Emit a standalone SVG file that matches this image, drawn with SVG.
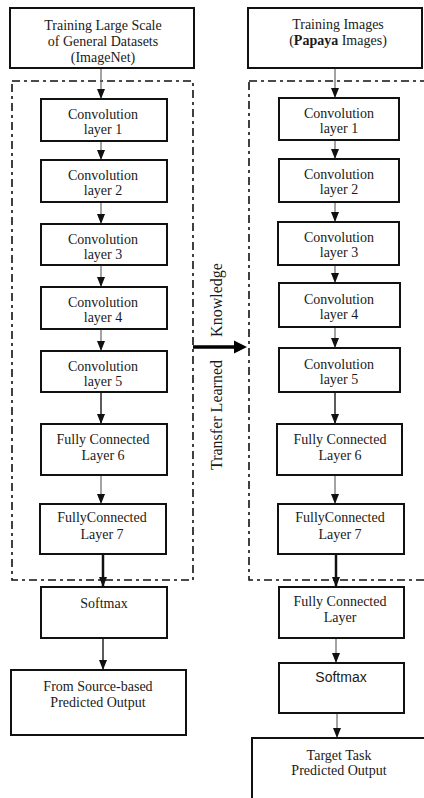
<svg xmlns="http://www.w3.org/2000/svg" width="424" height="798" viewBox="0 0 424 798">
<style>
.box{fill:#fff;stroke:#111;stroke-width:2}
.t{font-family:"Liberation Serif","Times New Roman",serif;font-size:14px;fill:#1a1a1a;text-anchor:middle}
.s{font-family:"Liberation Sans",Arial,sans-serif;font-size:14px;fill:#1a1a1a;text-anchor:middle}
.dash{fill:none;stroke:#111;stroke-width:1.6;stroke-dasharray:8 4 3 4}
.thin{stroke:#666;stroke-width:1.2;fill:none}
.thick{stroke:#111;stroke-width:2.5;fill:none}
.mid{stroke:#333;stroke-width:1.6;fill:none}
.lbl{font-family:"Liberation Serif","Times New Roman",serif;font-size:16px;fill:#1a1a1a;text-anchor:middle}
</style>
<defs>
<marker id="ah" viewBox="0 0 10 8" refX="10" refY="4" markerWidth="10" markerHeight="8" markerUnits="userSpaceOnUse" orient="auto">
<path d="M0,0 L10,4 L0,8 Z" fill="#111"/>
</marker>
</defs>
<rect width="424" height="798" fill="#fff"/>

<g id="frames">
<rect class="dash" x="12" y="81" width="181" height="499"/>
<rect class="dash" x="249" y="81" width="180" height="499"/>
</g>

<g id="connectors">
<line class="thin" x1="101" y1="68" x2="101" y2="99" marker-end="url(#ah)"/>
<line class="thin" x1="101" y1="141" x2="101" y2="160" marker-end="url(#ah)"/>
<line class="thin" x1="101" y1="202" x2="101" y2="224" marker-end="url(#ah)"/>
<line class="thin" x1="101" y1="265" x2="101" y2="287" marker-end="url(#ah)"/>
<line class="thin" x1="101" y1="329" x2="101" y2="351" marker-end="url(#ah)"/>
<line class="mid" x1="101" y1="392" x2="101" y2="424" marker-end="url(#ah)"/>
<line class="thin" x1="101" y1="475" x2="101" y2="504" marker-end="url(#ah)"/>
<line class="thick" x1="103" y1="554" x2="103" y2="587" marker-end="url(#ah)"/>
<line class="mid" x1="103" y1="638" x2="103" y2="670" marker-end="url(#ah)"/>

<line class="thin" x1="335" y1="68" x2="335" y2="98" marker-end="url(#ah)"/>
<line class="thin" x1="335" y1="140" x2="335" y2="159" marker-end="url(#ah)"/>
<line class="thin" x1="335" y1="202" x2="335" y2="222" marker-end="url(#ah)"/>
<line class="thin" x1="335" y1="265" x2="335" y2="283" marker-end="url(#ah)"/>
<line class="thin" x1="335" y1="327" x2="335" y2="348" marker-end="url(#ah)"/>
<line class="mid" x1="335" y1="392" x2="335" y2="424" marker-end="url(#ah)"/>
<line class="thin" x1="335" y1="475" x2="335" y2="504" marker-end="url(#ah)"/>
<line class="thick" x1="336" y1="554" x2="336" y2="587" marker-end="url(#ah)"/>
<line class="thin" x1="336" y1="638" x2="336" y2="663" marker-end="url(#ah)"/>
<line class="thin" x1="337" y1="713" x2="337" y2="738" marker-end="url(#ah)"/>
</g>

<g id="transfer">
<line x1="193" y1="347" x2="236" y2="347" stroke="#000" stroke-width="3.5"/>
<path d="M234,340.5 L247,347 L234,353.5 Z" fill="#000"/>
<text class="lbl" transform="translate(222,300) rotate(-90)">Knowledge</text>
<text class="lbl" transform="translate(222,415) rotate(-90)">Transfer Learned</text>
</g>

<g id="src-input">
<rect class="box" x="10" y="8" width="184" height="60"/>
<text class="t" x="103" y="30">Training Large Scale</text>
<text class="t" x="103" y="46">of General Datasets</text>
<text class="t" x="103" y="62">(ImageNet)</text>
</g>
<g id="src-conv1"><rect class="box" x="41" y="99" width="126" height="42"/><text class="t" x="103" y="119">Convolution</text><text class="t" x="103" y="134">layer 1</text></g>
<g id="src-conv2"><rect class="box" x="41" y="160" width="126" height="42"/><text class="t" x="103" y="180">Convolution</text><text class="t" x="103" y="195">layer 2</text></g>
<g id="src-conv3"><rect class="box" x="41" y="224" width="126" height="41"/><text class="t" x="103" y="244">Convolution</text><text class="t" x="103" y="259">layer 3</text></g>
<g id="src-conv4"><rect class="box" x="41" y="287" width="126" height="42"/><text class="t" x="103" y="307">Convolution</text><text class="t" x="103" y="322">layer 4</text></g>
<g id="src-conv5"><rect class="box" x="41" y="351" width="126" height="41"/><text class="t" x="103" y="371">Convolution</text><text class="t" x="103" y="386">layer 5</text></g>
<g id="src-fc6"><rect class="box" x="41" y="424" width="126" height="51"/><text class="t" x="103" y="444">Fully Connected</text><text class="t" x="103" y="460">Layer 6</text></g>
<g id="src-fc7"><rect class="box" x="40" y="504" width="126" height="50"/><text class="t" x="102" y="522">FullyConnected</text><text class="t" x="102" y="539">Layer 7</text></g>
<g id="src-softmax"><rect class="box" x="41" y="587" width="126" height="51"/><text class="t" x="104" y="608">Softmax</text></g>
<g id="src-output"><rect class="box" x="11" y="670" width="175" height="65"/><text class="t" x="98" y="691">From Source-based</text><text class="t" x="98" y="707">Predicted Output</text></g>

<g id="tgt-input">
<rect class="box" x="248" y="8" width="174" height="60"/>
<text class="t" x="338" y="29">Training Images</text>
<text class="t" x="338" y="45">(<tspan font-weight="bold">Papaya</tspan> Images)</text>
</g>
<g id="tgt-conv1"><rect class="box" x="279" y="98" width="120" height="42"/><text class="t" x="339" y="118">Convolution</text><text class="t" x="339" y="133">layer 1</text></g>
<g id="tgt-conv2"><rect class="box" x="279" y="159" width="120" height="43"/><text class="t" x="339" y="179">Convolution</text><text class="t" x="339" y="194">layer 2</text></g>
<g id="tgt-conv3"><rect class="box" x="278" y="222" width="121" height="43"/><text class="t" x="339" y="242">Convolution</text><text class="t" x="339" y="257">layer 3</text></g>
<g id="tgt-conv4"><rect class="box" x="279" y="283" width="121" height="44"/><text class="t" x="339" y="304">Convolution</text><text class="t" x="339" y="319">layer 4</text></g>
<g id="tgt-conv5"><rect class="box" x="279" y="348" width="121" height="44"/><text class="t" x="339" y="369">Convolution</text><text class="t" x="339" y="384">layer 5</text></g>
<g id="tgt-fc6"><rect class="box" x="277" y="424" width="125" height="51"/><text class="t" x="340" y="444">Fully Connected</text><text class="t" x="340" y="460">Layer 6</text></g>
<g id="tgt-fc7"><rect class="box" x="278" y="504" width="126" height="50"/><text class="t" x="340" y="522">FullyConnected</text><text class="t" x="340" y="539">Layer 7</text></g>
<g id="tgt-fc"><rect class="box" x="279" y="587" width="125" height="51"/><text class="t" x="340" y="606">Fully Connected</text><text class="t" x="340" y="622">Layer</text></g>
<g id="tgt-softmax"><rect class="box" x="279" y="663" width="125" height="50"/><text class="s" x="341" y="682">Softmax</text></g>
<g id="tgt-output"><rect class="box" x="252" y="738" width="180" height="70"/><text class="t" x="339" y="760">Target Task</text><text class="t" x="339" y="775">Predicted Output</text></g>
</svg>
